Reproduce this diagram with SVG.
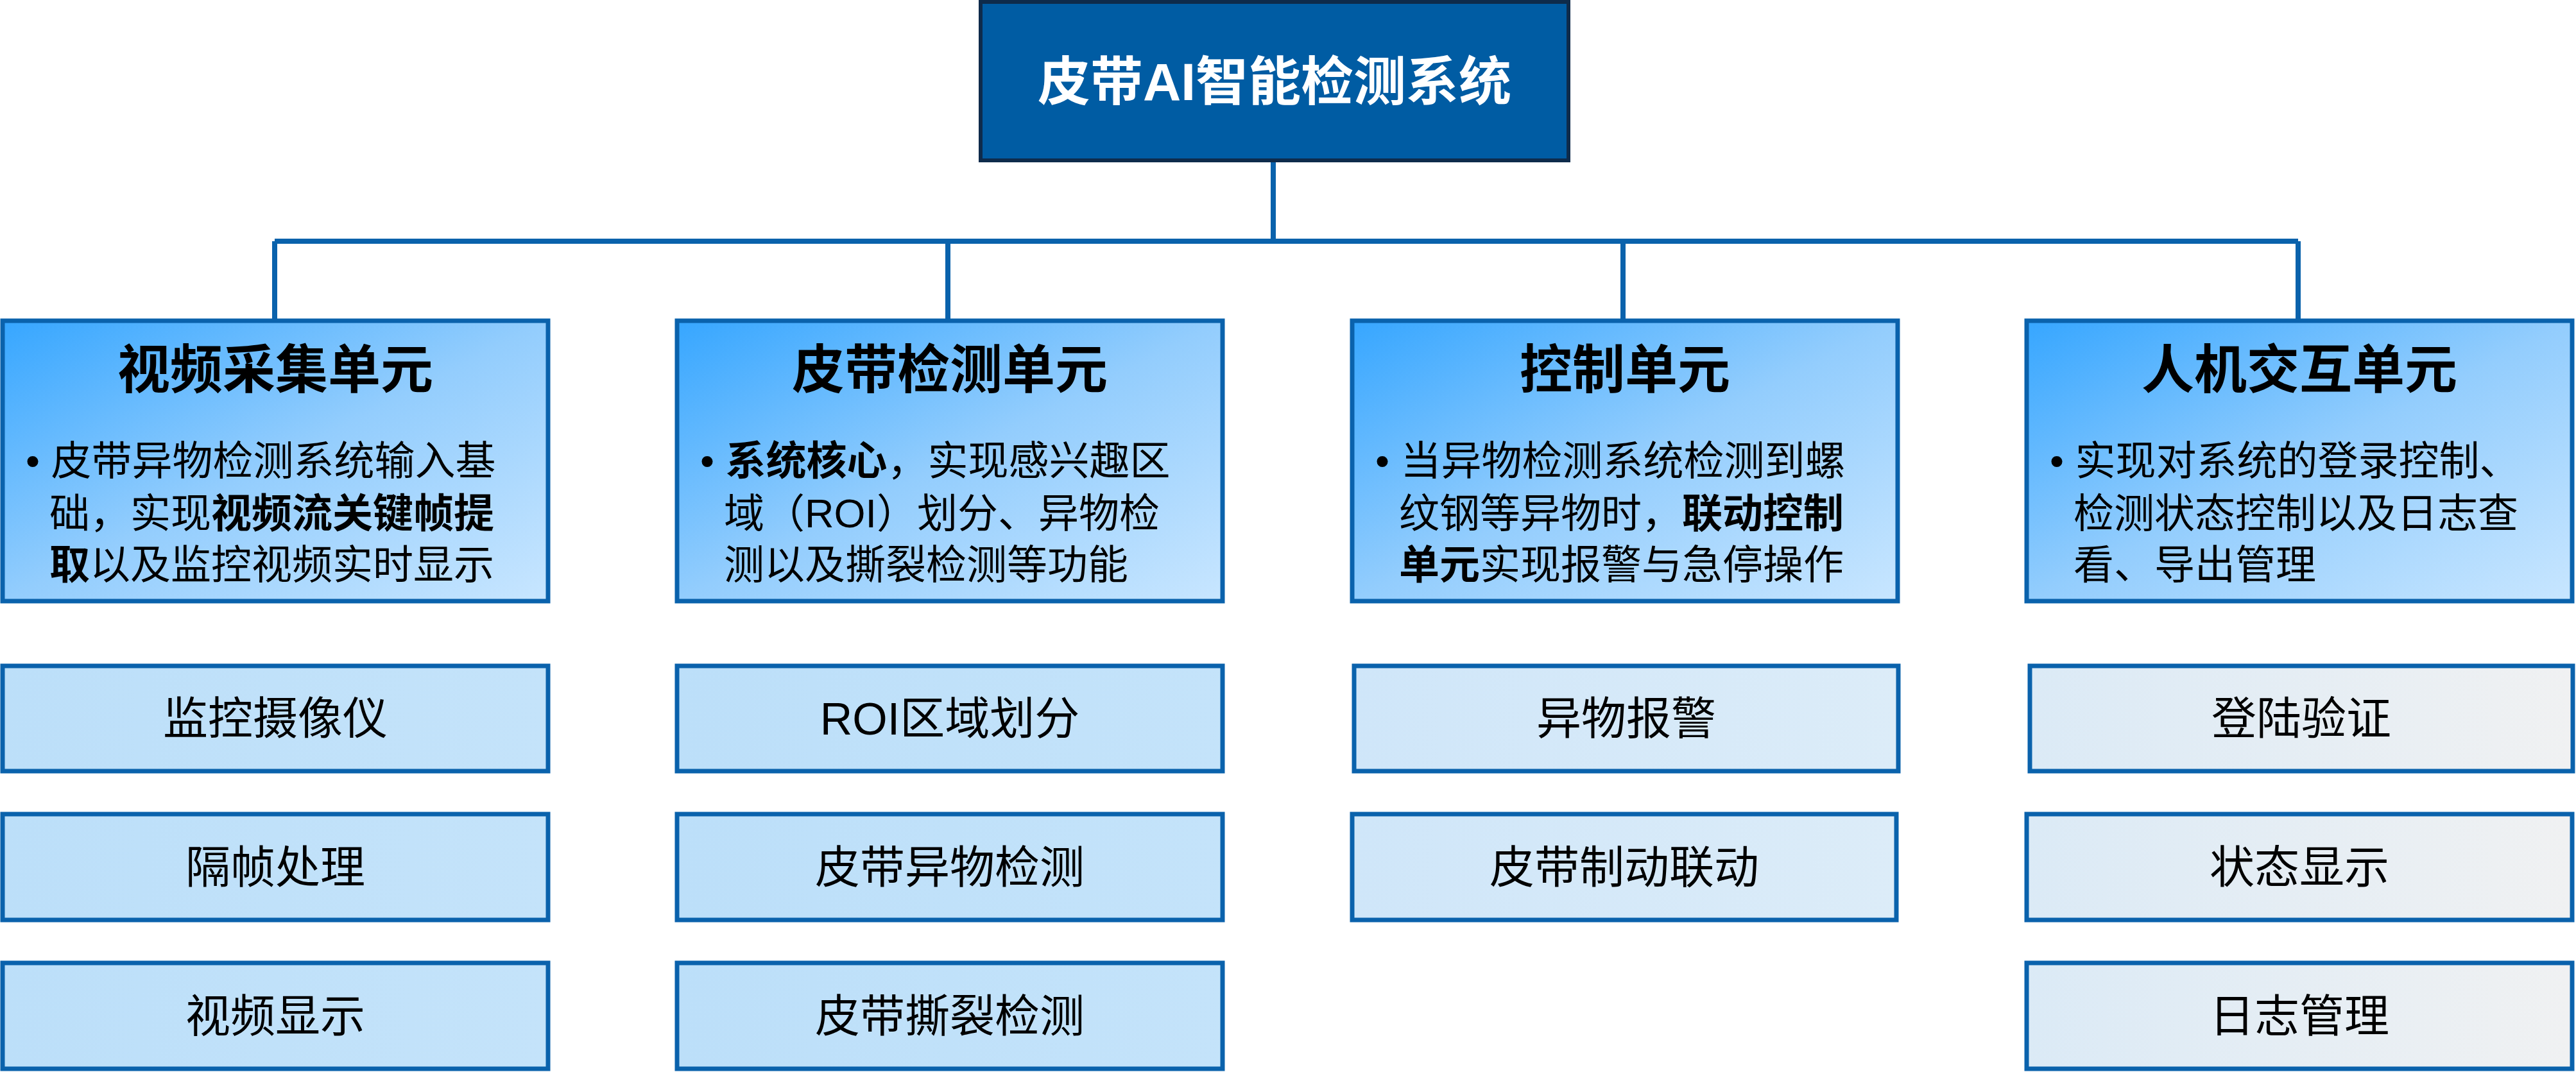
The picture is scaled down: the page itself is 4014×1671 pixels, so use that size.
<svg xmlns="http://www.w3.org/2000/svg" width="4014" height="1671" viewBox="0 0 4014 1671">
<style>
text{font-family:"Liberation Sans","Noto Sans CJK SC",sans-serif;fill:#000}
.unit{stroke:#0a62ac;stroke-width:7;fill:url(#gU)}
.sub{stroke:#0a62ac;stroke-width:7}
.ut{font-size:82px;font-weight:bold;text-anchor:middle}
.bd{font-size:63px}
.st{font-size:70px;text-anchor:middle}
b,.b{font-weight:bold}
</style>
<defs>
<linearGradient id="gU" x1="0" y1="0" x2="1" y2="1"><stop offset="0" stop-color="#36a6ff"/><stop offset="0.5" stop-color="#93cdfd"/><stop offset="1" stop-color="#c8e6ff"/></linearGradient>
<linearGradient id="gA" x1="0" y1="0" x2="1" y2="0"><stop offset="0" stop-color="#bcdff9"/><stop offset="1" stop-color="#c4e3fa"/></linearGradient>
<linearGradient id="gC" x1="0" y1="0" x2="1" y2="0"><stop offset="0" stop-color="#cfe6f9"/><stop offset="1" stop-color="#dcecf8"/></linearGradient>
<linearGradient id="gD" x1="0" y1="0" x2="1" y2="0"><stop offset="0" stop-color="#dbeaf6"/><stop offset="1" stop-color="#f0f1f2"/></linearGradient>
</defs>
<g id="connectors" stroke="#0a62ac" stroke-width="8" fill="none">
<path d="M1984 251V376M428 376H3581M428 376V499M1477 376V499M2529 376V499M3581 376V499"/>
</g>
<g id="title">
<rect x="1528" y="3" width="916" height="247" fill="#005ca3" stroke="#0e2b4b" stroke-width="6"/>
<text x="1986" y="156" font-size="82" font-weight="bold" text-anchor="middle" style="fill:#fff">皮带AI智能检测系统</text>
</g>
<g id="u1">
<rect class="unit" x="4" y="500" width="850" height="437"/>
<text class="ut" x="429" y="605">视频采集单元</text>
<text class="bd" x="40" y="740">• 皮带异物检测系统输入基</text>
<text class="bd" x="77" y="822">础，实现<tspan class="b">视频流关键帧提</tspan></text>
<text class="bd" x="77" y="902"><tspan class="b">取</tspan>以及监控视频实时显示</text>
</g>
<g id="u2">
<rect class="unit" x="1055" y="500" width="850" height="437"/>
<text class="ut" x="1480" y="605">皮带检测单元</text>
<text class="bd" x="1091" y="740">• <tspan class="b">系统核心</tspan>，实现感兴趣区</text>
<text class="bd" x="1128" y="822">域（ROI）划分、异物检</text>
<text class="bd" x="1128" y="902">测以及撕裂检测等功能</text>
</g>
<g id="u3">
<rect class="unit" x="2107" y="500" width="850" height="437"/>
<text class="ut" x="2532" y="605">控制单元</text>
<text class="bd" x="2143" y="740">• 当异物检测系统检测到螺</text>
<text class="bd" x="2180" y="822">纹钢等异物时，<tspan class="b">联动控制</tspan></text>
<text class="bd" x="2180" y="902"><tspan class="b">单元</tspan>实现报警与急停操作</text>
</g>
<g id="u4">
<rect class="unit" x="3158" y="500" width="850" height="437"/>
<text class="ut" x="3583" y="605">人机交互单元</text>
<text class="bd" x="3194" y="740">• 实现对系统的登录控制、</text>
<text class="bd" x="3231" y="822">检测状态控制以及日志查</text>
<text class="bd" x="3231" y="902">看、导出管理</text>
</g>
<g id="s11"><rect class="sub" x="4" y="1038" width="850" height="164" fill="url(#gA)"/><text class="st" x="429" y="1145">监控摄像仪</text></g>
<g id="s12"><rect class="sub" x="4" y="1269" width="850" height="165" fill="url(#gA)"/><text class="st" x="429" y="1377">隔帧处理</text></g>
<g id="s13"><rect class="sub" x="4" y="1501" width="850" height="165" fill="url(#gA)"/><text class="st" x="429" y="1609">视频显示</text></g>
<g id="s21"><rect class="sub" x="1055" y="1038" width="850" height="164" fill="url(#gA)"/><text class="st" x="1480" y="1145">ROI区域划分</text></g>
<g id="s22"><rect class="sub" x="1055" y="1269" width="850" height="165" fill="url(#gA)"/><text class="st" x="1480" y="1377">皮带异物检测</text></g>
<g id="s23"><rect class="sub" x="1055" y="1501" width="850" height="165" fill="url(#gA)"/><text class="st" x="1480" y="1609">皮带撕裂检测</text></g>
<g id="s31"><rect class="sub" x="2110" y="1038" width="848" height="164" fill="url(#gC)"/><text class="st" x="2534" y="1145">异物报警</text></g>
<g id="s32"><rect class="sub" x="2107" y="1269" width="848" height="165" fill="url(#gC)"/><text class="st" x="2531" y="1377">皮带制动联动</text></g>
<g id="s41"><rect class="sub" x="3163" y="1038" width="846" height="164" fill="url(#gD)"/><text class="st" x="3586" y="1145">登陆验证</text></g>
<g id="s42"><rect class="sub" x="3158" y="1269" width="850" height="165" fill="url(#gD)"/><text class="st" x="3583" y="1377">状态显示</text></g>
<g id="s43"><rect class="sub" x="3158" y="1501" width="850" height="165" fill="url(#gD)"/><text class="st" x="3583" y="1609">日志管理</text></g>
</svg>
